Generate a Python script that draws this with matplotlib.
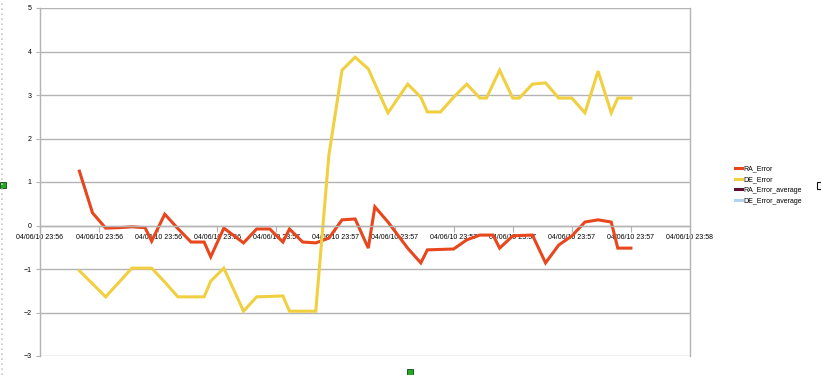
import matplotlib
matplotlib.use("Agg")
import matplotlib.pyplot as plt
import matplotlib.dates as mdates
import pandas as pd
from matplotlib.patches import Rectangle
from matplotlib.lines import Line2D

DAY = "2010-04-06 "

TIMES = ["23:56:30", "23:56:32", "23:56:34", "23:56:36", "23:56:38", "23:56:40",
         "23:56:41", "23:56:43", "23:56:45", "23:56:47", "23:56:49", "23:56:50",
         "23:56:52", "23:56:55", "23:56:57", "23:56:59", "23:57:01", "23:57:02",
         "23:57:04", "23:57:06", "23:57:08", "23:57:10", "23:57:12", "23:57:14",
         "23:57:15", "23:57:17", "23:57:20", "23:57:22", "23:57:23", "23:57:25",
         "23:57:27", "23:57:29", "23:57:31", "23:57:32", "23:57:33", "23:57:34",
         "23:57:36", "23:57:37", "23:57:39", "23:57:41", "23:57:43", "23:57:45",
         "23:57:47", "23:57:49", "23:57:51", "23:57:52", "23:57:54"]

RA_ERROR = [1.25, 0.29, -0.06, -0.05, -0.03, -0.05, -0.36, 0.26, -0.07, -0.38,
            -0.38, -0.72, -0.06, -0.40, -0.08, -0.08, -0.38, -0.08, -0.38, -0.40,
            -0.29, 0.13, 0.15, -0.52, 0.43, 0.08, -0.52, -0.86, -0.56, -0.55,
            -0.54, -0.33, -0.22, -0.22, -0.22, -0.52, -0.24, -0.23, -0.22, -0.86,
            -0.45, -0.24, 0.08, 0.13, 0.08, -0.52, -0.52]

DE_ERROR = [-1.04, -1.34, -1.64, -1.31, -0.98, -0.98, -0.98, -1.30, -1.64, -1.64,
            -1.64, -1.28, -0.98, -1.97, -1.64, -1.63, -1.62, -1.97, -1.97, -1.97,
            1.62, 3.57, 3.87, 3.60, 3.26, 2.59, 3.25, 2.95, 2.61, 2.61,
            2.95, 3.25, 2.93, 2.93, 3.25, 3.57, 2.93, 2.93, 3.25, 3.28,
            2.93, 2.93, 2.59, 3.55, 2.59, 2.93, 2.93]

# average series are listed in the legend but have no visible points
RA_ERROR_AVERAGE = []
DE_ERROR_AVERAGE = []

TICK_TIMES = ["23:56:24", "23:56:33", "23:56:42", "23:56:51", "23:57:00", "23:57:09",
              "23:57:18", "23:57:27", "23:57:36", "23:57:45", "23:57:54", "23:58:03"]

GRID = "#b3b3b3"


def main():
    plt.rcParams['font.family'] = ['Liberation Sans', 'DejaVu Sans']

    x = pd.to_datetime([DAY + t for t in TIMES])
    ticks = pd.to_datetime([DAY + t for t in TICK_TIMES])

    fig = plt.figure(figsize=(8.21, 3.75), dpi=100)
    W, H = 821, 375
    ax = fig.add_axes([40 / W, 1 - 356 / H, 650 / W, 348 / H])

    ax.plot(x, RA_ERROR, color="#e8461c", linewidth=2.2, label="RA_Error",
            solid_joinstyle="miter")
    ax.plot(x, DE_ERROR, color="#f0d040", linewidth=2.2, label="DE_Error",
            solid_joinstyle="miter")
    ax.plot(pd.to_datetime(RA_ERROR_AVERAGE), RA_ERROR_AVERAGE, color="#5c1030",
            linewidth=2.2, label="RA_Error_average")
    ax.plot(pd.to_datetime(DE_ERROR_AVERAGE), DE_ERROR_AVERAGE, color="#b0d4f0",
            linewidth=2.2, label="DE_Error_average")

    ax.set_ylim(-3, 5)
    ax.set_yticks(range(-3, 6))
    ax.set_xlim(ticks[0], ticks[-1])
    ax.set_xticks(ticks)
    ax.xaxis.set_major_formatter(mdates.DateFormatter("%m/%d/%y %H:%M"))

    ax.grid(True, axis="y", color=GRID, linewidth=1.0)
    ax.set_axisbelow(True)

    for side in ["left", "right"]:
        ax.spines[side].set_color(GRID)
        ax.spines[side].set_linewidth(1.0)
    ax.spines["top"].set_visible(False)
    ax.spines["bottom"].set_position(("data", 0))
    ax.spines["bottom"].set_color(GRID)
    ax.spines["bottom"].set_linewidth(1.0)

    ax.tick_params(axis="x", direction="out", length=4, width=0.8, color=GRID,
                   labelsize=5, pad=2)
    ax.tick_params(axis="y", direction="out", length=3, width=0.8, color=GRID,
                   labelsize=5, pad=3)

    fig.legend(loc="center left", bbox_to_anchor=(732 / W, 1 - 185 / H),
               frameon=False, fontsize=5, handlelength=1.0, handletextpad=0.2,
               labelspacing=0.55, borderpad=0)

    # selection handles and dotted frame of the chart object
    fig.add_artist(Line2D([1.5 / W, 1.5 / W], [0, 1], color="#c8c8c8",
                          linewidth=1.2, linestyle=(0, (1, 2))))
    for (hx, hy) in [(0, 182), (407, 369)]:
        fig.add_artist(Rectangle((hx / W, 1 - (hy + 6) / H), 6 / W, 6 / H,
                                 facecolor="#22aa22", edgecolor="#114411",
                                 linewidth=0.6))
    fig.add_artist(Rectangle((817 / W, 1 - 189 / H), 4 / W, 7 / H,
                             facecolor="#ffffff", edgecolor="#111111",
                             linewidth=0.8))

    fig.savefig("out.png", dpi=100)


if __name__ == "__main__":
    main()
